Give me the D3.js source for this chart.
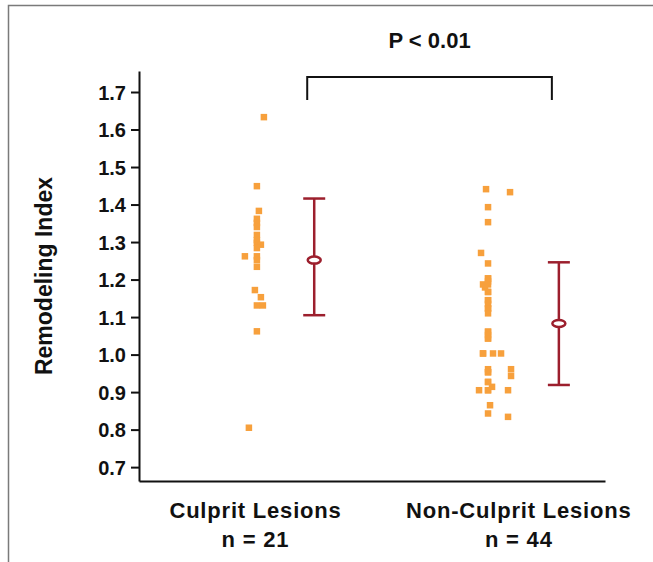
<!DOCTYPE html>
<html>
<head>
<meta charset="utf-8">
<script src="https://cdn.jsdelivr.net/npm/d3@7"></script>
<style>
  body { margin: 0; background: #fff; }
  text { font-family: "Liberation Sans", Arial, sans-serif; font-weight: bold; fill: #111; }
</style>
</head>
<body>
<div id="chart"></div>
<script>

// groups
var groups = ["Culprit Lesions", "Non-Culprit Lesions"]
var groupN = ["n = 21", "n = 44"]

// remodeling index values
var culpritVals = [1.633, 1.449, 1.383, 1.362, 1.351, 1.340, 1.319, 1.305, 1.298, 1.293, 1.284,
  1.262, 1.262, 1.252, 1.234, 1.172, 1.153, 1.131, 1.131, 1.062, 0.805]
var culpritJitter = [7, 0, 2, 0, 0, 0, 0, 0, 0, 4, 0, -12, 0, 0, 0, -2, 4, 0, 6, 0, -8]

var nonCulpritVals = [1.441, 1.433, 1.393, 1.353, 1.271, 1.243, 1.203, 1.203, 1.195, 1.187, 1.187,
  1.179, 1.167, 1.167, 1.145, 1.145, 1.135, 1.123, 1.123, 1.110, 1.061, 1.061, 1.052, 1.043, 1.043,
  1.003, 1.003, 1.003, 1.003, 0.961, 0.961, 0.953, 0.953, 0.943, 0.927, 0.927, 0.914,
  0.905, 0.905, 0.905, 0.905, 0.865, 0.843, 0.834]
var nonCulpritJitter = [-2, 22, 0, 0, -7, 0, 0, 0, 0, -5, 0,
  -3, 0, 0, 0, 0, 0, 0, 0, 0, 0, 0, 0, 0, 0,
  -5, 5, 13, -5, 0, 23, 0, 0, 23, 0, 0, 4,
  -9, 0, 20, 0, 2, 0, 20]

// mean and error bar ends
var means = [1.252, 1.083]
var upper = [1.416, 1.246]
var lower = [1.105, 0.919]

var yTicks = [0.7, 0.8, 0.9, 1.0, 1.1, 1.2, 1.3, 1.4, 1.5, 1.6, 1.7]
var pLabel = "P < 0.01"

var W = 653, H = 562
var orange = "#f7a03c", red = "#9c1f2d"

var svg = d3.select("#chart").append("svg")
  .attr("width", W).attr("height", H)

// frame
svg.append("path")
  .attr("d", "M8.5," + H + "V5.5H" + W)
  .attr("fill", "none").attr("stroke", "#7a7a7a").attr("stroke-width", 1.5)

var x = d3.scaleLinear().domain([0, 10]).range([139, 605])
var y = d3.scaleLinear().domain([0.663, 1.756]).range([481, 71])

var pointX = [2.53, 7.49]   // scatter column centres
var barX = [3.76, 9.01]     // mean / error bar positions
var labelX = [2.5, 8.15]

// axes
var yAxis = svg.append("g")
  .attr("transform", "translate(" + x(0) + ",0)")
  .call(d3.axisLeft(y).tickValues(yTicks).tickFormat(d3.format(".1f"))
    .tickSize(8).tickSizeOuter(0).tickPadding(5))
yAxis.selectAll("path, line").attr("stroke", "#111").attr("stroke-width", 2)
yAxis.selectAll("text").style("font-size", "20px").attr("fill", "#111")
  .attr("font-family", null).attr("dy", "0.36em")

var xAxis = svg.append("g")
  .attr("transform", "translate(0," + y.range()[0] + ")")
  .call(d3.axisBottom(x).tickValues([]).tickSizeOuter(0))
xAxis.select("path").attr("stroke", "#111").attr("stroke-width", 2)

// y title
svg.append("text")
  .attr("transform", "translate(52," + 276 + ") rotate(-90)")
  .attr("text-anchor", "middle")
  .style("font-size", "23px")
  .text("Remodeling Index")

// group labels
groups.forEach(function(g, i) {
  svg.append("text")
    .attr("x", x(labelX[i])).attr("y", 518)
    .attr("text-anchor", "middle")
    .style("font-size", "22px").style("letter-spacing", "0.8px")
    .text(g)
  svg.append("text")
    .attr("x", x(labelX[i])).attr("y", 547)
    .attr("text-anchor", "middle")
    .style("font-size", "22px").style("letter-spacing", "0.8px")
    .text(groupN[i])
})

// scatter points
var sq = 6.5
function drawPoints(vals, jit, gi) {
  svg.append("g").selectAll("rect")
    .data(vals)
    .enter().append("rect")
      .attr("x", function(d, i) { return x(pointX[gi]) + jit[i] - sq / 2 })
      .attr("y", function(d) { return y(d) - sq / 2 })
      .attr("width", sq).attr("height", sq)
      .attr("fill", orange)
}
drawPoints(culpritVals, culpritJitter, 0)
drawPoints(nonCulpritVals, nonCulpritJitter, 1)

// mean with error bars
means.forEach(function(m, i) {
  var cx = x(barX[i])
  var g = svg.append("g").attr("stroke", red).attr("stroke-width", 2.5).attr("fill", "none")
  g.append("line").attr("x1", cx).attr("x2", cx).attr("y1", y(upper[i])).attr("y2", y(lower[i]))
  g.append("line").attr("x1", cx - 11).attr("x2", cx + 11).attr("y1", y(upper[i])).attr("y2", y(upper[i]))
  g.append("line").attr("x1", cx - 11).attr("x2", cx + 11).attr("y1", y(lower[i])).attr("y2", y(lower[i]))
  g.append("ellipse").attr("cx", cx).attr("cy", y(m)).attr("rx", 6.5).attr("ry", 3.5)
    .attr("fill", "#fff")
})

// significance bracket
var bl = x(barX[0]) - 7, br = x(barX[1]) - 7
svg.append("path")
  .attr("d", "M" + bl + ",100V77H" + br + "V100")
  .attr("fill", "none").attr("stroke", "#111").attr("stroke-width", 2)
svg.append("text")
  .attr("x", (bl + br) / 2).attr("y", 48)
  .attr("text-anchor", "middle")
  .style("font-size", "22px")
  .text(pLabel)

</script>
</body>
</html>
